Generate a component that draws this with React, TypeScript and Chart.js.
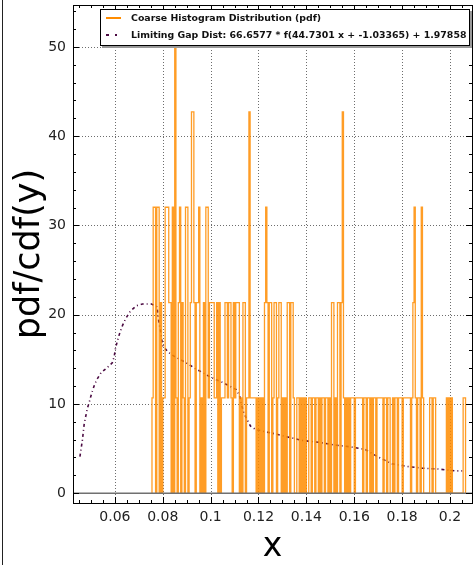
import React, { useEffect, useRef } from "react";
import { Chart, registerables } from "chart.js";

Chart.register(...registerables);

// ---------- data ----------
const xMin = 0.0425;
const xMax = 0.2092;
const yMin = -1.1;
const yMax = 54.7;

const xTickValues = [0.06, 0.08, 0.1, 0.12, 0.14, 0.16, 0.18, 0.2];
const xTickLabels = ["0.06", "0.08", "0.1", "0.12", "0.14", "0.16", "0.18", "0.2"];
const yTickValues = [0, 10, 20, 30, 40, 50];
const yTickLabels = ["0", "10", "20", "30", "40", "50"];
const xMinorStep = 0.005;
const yMinorStep = 2;

// histogram: uniform bins starting at histStart, counts per bin
const histStart = 0.0755;
const binWidth = 0.0005;
const pdfPerCount = 10.68;
const histCounts = [
  1, 3, 3, 0, 3, 3, 0, 2, 0, 1,
  1, 3, 3, 3, 2, 2, 0, 3, 0, 5,
  1, 0, 2, 3, 0, 2, 1, 0, 3, 3,
  0, 1, 2, 4, 4, 2, 0, 2, 2, 3,
  0, 1, 0, 2, 0, 3, 3, 1, 2, 2,
  2, 2, 1, 1, 2, 0, 2, 0, 1, 1,
  1, 2, 2, 1, 2, 2, 1, 0, 2, 1,
  2, 2, 2, 0, 1, 0, 2, 2, 0, 1,
  1, 4, 1, 1, 1, 1, 1, 0, 1, 0,
  1, 0, 1, 0, 2, 3, 2, 0, 2, 2,
  0, 1, 2, 2, 0, 1, 2, 2, 0, 1,
  0, 1, 0, 2, 2, 0, 2, 2, 1, 0,
  0, 1, 1, 0, 1, 0, 1, 0, 1, 0,
  0, 1, 1, 0, 1, 1, 0, 1, 1, 0,
  1, 0, 1, 1, 0, 1, 1, 0, 1, 0,
  2, 2, 0, 1, 0, 2, 2, 0, 2, 4,
  1, 0, 1, 0, 1, 0, 1, 1, 1, 0,
  1, 1, 1, 1, 1, 1, 0, 1, 1, 0,
  1, 1, 0, 1, 0, 1, 1, 0, 1, 1,
  1, 1, 1, 0, 1, 1, 0, 1, 1, 0,
  0, 1, 0, 1, 1, 0, 1, 1, 1, 0,
  1, 1, 1, 1, 1, 1, 0, 1, 2, 3,
  1, 0, 1, 1, 0, 3, 1, 0, 0, 0,
  0, 0, 1, 1, 0, 1, 1, 0, 0, 0,
  0, 0, 0, 0, 0, 0, 1, 0, 1, 0,
  1, 0, 0, 0, 0, 0, 0, 0, 0, 0,
  1, 1,
];

// limiting gap distribution curve
const curveX = [
  0.0454, 0.0464, 0.0472, 0.0485, 0.0493, 0.0503, 0.0513, 0.0524, 0.0542, 0.0565,
  0.0589, 0.0597, 0.0603, 0.0611, 0.0621, 0.0632, 0.0646, 0.0665, 0.069, 0.0715,
  0.0753, 0.0776, 0.078, 0.0785, 0.079, 0.0795, 0.0801, 0.0822, 0.085, 0.0878,
  0.0905, 0.0933, 0.0961, 0.0993, 0.1024, 0.1051, 0.1079, 0.1107, 0.1121, 0.1128,
  0.1138, 0.1149, 0.1167, 0.119, 0.1211, 0.1225, 0.126, 0.1322, 0.1385, 0.1451,
  0.1517, 0.1582, 0.1646, 0.1697, 0.1757, 0.182, 0.1885, 0.1954, 0.2021, 0.2051,
];
const curveY = [
  4.1, 5.9, 7.8, 9.5, 10.2, 11.2, 12.0, 12.7, 13.5, 14.0,
  14.6, 15.3, 16.3, 17.1, 18.0, 18.8, 19.6, 20.4, 21.0, 21.2,
  21.2, 20.9, 19.9, 19.0, 18.3, 17.3, 16.5, 15.8, 15.3, 14.9,
  14.5, 14.0, 13.6, 13.1, 12.7, 12.4, 12.0, 11.6, 10.9, 10.0,
  9.1, 8.4, 7.5, 7.1, 7.0, 6.9, 6.7, 6.3, 5.9, 5.7,
  5.4, 5.2, 4.9, 4.1, 3.3, 3.0, 2.8, 2.7, 2.5, 2.5,
];

const histLabel = "Coarse Histogram Distribution (pdf)";
const curveLabel = "Limiting Gap Dist: 66.6577 * f(44.7301 x + -1.03365) + 1.97858";

// ---------- styles ----------
const FONT = "'DejaVu Sans', 'Liberation Sans', sans-serif";
const ORANGE = "rgba(255,140,0,0.85)";
const PURPLE = "#4b0a42";

const framePlugin = {
  id: "frameAxes",
  beforeDatasetsDraw(chart: any) {
    const { ctx, chartArea: a, scales } = chart;
    const x = scales.x;
    const y = scales.y;
    ctx.save();
    ctx.strokeStyle = "rgba(60,60,60,0.75)";
    ctx.lineWidth = 1;
    ctx.setLineDash([1, 2]);
    xTickValues.forEach((v) => {
      const px = Math.round(x.getPixelForValue(v)) + 0.5;
      ctx.beginPath();
      ctx.moveTo(px, a.top);
      ctx.lineTo(px, a.bottom);
      ctx.stroke();
    });
    yTickValues.forEach((v) => {
      if (v === 0) return;
      const py = Math.round(y.getPixelForValue(v)) + 0.5;
      ctx.beginPath();
      ctx.moveTo(a.left, py);
      ctx.lineTo(a.right, py);
      ctx.stroke();
    });
    ctx.restore();
  },
  afterDatasetsDraw(chart: any) {
    const { ctx, chartArea: a, scales } = chart;
    const x = scales.x;
    const y = scales.y;
    ctx.save();
    // zero line
    ctx.strokeStyle = "#707070";
    ctx.lineWidth = 1.6;
    const zy = y.getPixelForValue(0);
    ctx.beginPath();
    ctx.moveTo(a.left, zy);
    ctx.lineTo(a.right, zy);
    ctx.stroke();
    // frame
    ctx.strokeStyle = "#000";
    ctx.lineWidth = 1;
    ctx.strokeRect(Math.round(a.left) + 0.5, Math.round(a.top) + 0.5, Math.round(a.right - a.left), Math.round(a.bottom - a.top));
    // ticks
    const major = 6;
    const minor = 3;
    const isMajorX = (v: number) => xTickValues.some((t) => Math.abs(t - v) < 1e-9);
    for (let v = Math.ceil(xMin / xMinorStep) * xMinorStep; v <= xMax + 1e-9; v += xMinorStep) {
      const vv = Math.round(v * 1e6) / 1e6;
      const len = isMajorX(vv) ? major : minor;
      const px = Math.round(x.getPixelForValue(vv)) + 0.5;
      ctx.beginPath();
      ctx.moveTo(px, a.bottom);
      ctx.lineTo(px, a.bottom - len);
      ctx.moveTo(px, a.top);
      ctx.lineTo(px, a.top + len);
      ctx.stroke();
    }
    for (let v = 0; v <= yMax; v += yMinorStep) {
      const len = v % 10 === 0 ? major : minor;
      const py = Math.round(y.getPixelForValue(v)) + 0.5;
      ctx.beginPath();
      ctx.moveTo(a.left, py);
      ctx.lineTo(a.left + len, py);
      ctx.moveTo(a.right, py);
      ctx.lineTo(a.right - len, py);
      ctx.stroke();
    }
    ctx.restore();
  },
};

export default function App() {
  const canvasRef = useRef<HTMLCanvasElement | null>(null);

  useEffect(() => {
    if (!canvasRef.current) return;
    const histPoints: { x: number; y: number }[] = [{ x: histStart, y: 0 }];
    histCounts.forEach((c, i) => {
      const x0 = histStart + i * binWidth;
      const x1 = x0 + binWidth;
      histPoints.push({ x: x0, y: c * pdfPerCount }, { x: x1, y: c * pdfPerCount });
    });
    histPoints.push({ x: histStart + histCounts.length * binWidth, y: 0 });
    const curvePoints = curveX.map((x, i) => ({ x, y: curveY[i] }));

    const chart = new Chart(canvasRef.current, {
      type: "line",
      data: {
        datasets: [
          {
            label: histLabel,
            data: histPoints,
            borderColor: ORANGE,
            borderWidth: 1.3,
            pointRadius: 0,
            tension: 0,
            fill: false,
          },
          {
            label: curveLabel,
            data: curvePoints,
            borderColor: PURPLE,
            borderWidth: 1.6,
            borderDash: [3, 3, 1, 3],
            pointRadius: 0,
            tension: 0,
            fill: false,
          },
        ],
      },
      options: {
        animation: false,
        responsive: false,
        maintainAspectRatio: false,
        layout: { padding: { top: 5, right: 1, left: 0, bottom: 0 } },
        plugins: { legend: { display: false }, tooltip: { enabled: false } },
        scales: {
          x: {
            type: "linear",
            min: xMin,
            max: xMax,
            afterFit: (s: any) => {
              s.height = 62;
              s.paddingLeft = 0;
              s.paddingRight = 0;
            },
            afterBuildTicks: (s: any) => {
              s.ticks = xTickValues.map((v) => ({ value: v }));
            },
            ticks: {
              callback: (_v: any, i: number) => xTickLabels[i],
              font: { family: FONT, size: 14 },
              color: "#222",
              padding: 6,
              maxRotation: 0,
              autoSkip: false,
            },
            grid: { display: false, drawTicks: false },
            border: { display: false },
            title: {
              display: true,
              text: "x",
              font: { family: FONT, size: 33 },
              color: "#000",
              padding: { top: 0, bottom: -2 },
            },
          },
          y: {
            type: "linear",
            min: yMin,
            max: yMax,
            afterFit: (s: any) => {
              s.width = 73;
              s.paddingTop = 0;
              s.paddingBottom = 0;
            },
            afterBuildTicks: (s: any) => {
              s.ticks = yTickValues.map((v) => ({ value: v }));
            },
            ticks: {
              callback: (_v: any, i: number) => yTickLabels[i],
              font: { family: FONT, size: 14 },
              color: "#222",
              padding: 7,
              autoSkip: false,
            },
            grid: { display: false, drawTicks: false },
            border: { display: false },
            title: {
              display: true,
              text: "pdf/cdf(y)",
              font: { family: FONT, size: 35 },
              color: "#000",
              padding: { top: 9, bottom: 0 },
            },
          },
        },
      },
      plugins: [framePlugin],
    });
    return () => chart.destroy();
  }, []);

  const sampleRow = (top: number): React.CSSProperties => ({
    position: "absolute",
    left: 0,
    top,
    height: 17,
    width: "100%",
  });

  return (
    <div style={{ position: "fixed", left: 0, top: 0, width: 473, height: 565, background: "#fff", overflow: "hidden" }}>
      <canvas ref={canvasRef} width={473} height={565} style={{ position: "absolute", left: 0, top: 0, width: 473, height: 565 }} />
      <div style={{ position: "absolute", left: 2, top: 0, width: 1, height: 565, background: "#222" }} />
      <div
        style={{
          position: "absolute",
          left: 100,
          top: 9,
          width: 368,
          height: 35,
          border: "1px solid #000",
          background: "#fff",
          boxShadow: "2px 2px 0 #999",
          fontFamily: FONT,
          fontWeight: "bold",
          fontSize: 9.4,
          color: "#111",
        }}
      >
        <div style={sampleRow(0)}>
          <div style={{ position: "absolute", left: 5, top: 7, width: 15, height: 1.5, background: "#ff8c00" }} />
          <div style={{ position: "absolute", left: 30, top: 2, whiteSpace: "nowrap", lineHeight: "12px" }}>{histLabel}</div>
        </div>
        <div style={sampleRow(17)}>
          <div style={{ position: "absolute", left: 5, top: 7, width: 3, height: 2, background: PURPLE }} />
          <div style={{ position: "absolute", left: 14, top: 7, width: 2, height: 2, background: PURPLE }} />
          <div style={{ position: "absolute", left: 30, top: 2, whiteSpace: "nowrap", lineHeight: "12px" }}>{curveLabel}</div>
        </div>
      </div>
    </div>
  );
}
